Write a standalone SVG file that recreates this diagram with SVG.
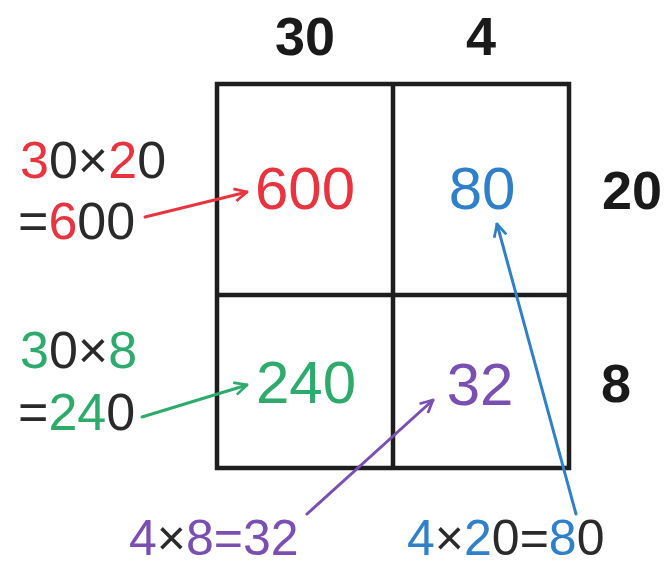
<svg xmlns="http://www.w3.org/2000/svg" width="669" height="567" viewBox="0 0 669 567">
<style>
text{font-family:"Liberation Sans","DejaVu Sans",sans-serif}
.hdr{font-size:54px;font-weight:700;fill:#1a1a1a}
.lbl{font-size:52px;fill:#2a2a2a}
.bot{font-size:50px}
.cell{font-size:60px;text-anchor:middle}
.grid{fill:none;stroke:#1e1e1e;stroke-width:4.5}
.r{fill:#e8343f}.g{fill:#2eaa6c}.b{fill:#2f80c8}.p{fill:#7a4fb2}.k{fill:#2a2a2a}
.arr{fill:none;stroke-width:3;stroke-linecap:round}
</style>
<defs>
<marker id="mr" viewBox="0 0 12 12" refX="11" refY="6" markerWidth="5" markerHeight="5" orient="auto" markerUnits="strokeWidth"><path d="M1 1 L11 6 L1 11" fill="none" stroke="#e8343f" stroke-width="2.2"/></marker>
<marker id="mg" viewBox="0 0 12 12" refX="11" refY="6" markerWidth="5" markerHeight="5" orient="auto" markerUnits="strokeWidth"><path d="M1 1 L11 6 L1 11" fill="none" stroke="#2eaa6c" stroke-width="2.2"/></marker>
<marker id="mb" viewBox="0 0 12 12" refX="11" refY="6" markerWidth="5" markerHeight="5" orient="auto" markerUnits="strokeWidth"><path d="M1 1 L11 6 L1 11" fill="none" stroke="#2f80c8" stroke-width="2.2"/></marker>
<marker id="mp" viewBox="0 0 12 12" refX="11" refY="6" markerWidth="5" markerHeight="5" orient="auto" markerUnits="strokeWidth"><path d="M1 1 L11 6 L1 11" fill="none" stroke="#7a4fb2" stroke-width="2.2"/></marker>
</defs>
<rect width="669" height="567" fill="#ffffff"/>
<g id="grid">
<rect class="grid" x="217" y="84" width="352" height="384"/>
<line class="grid" x1="393" y1="84" x2="393" y2="468"/>
<line class="grid" x1="217" y1="295" x2="569" y2="295"/>
</g>
<g id="headers">
<text class="hdr" x="305" y="55" text-anchor="middle">30</text>
<text class="hdr" x="481" y="55" text-anchor="middle">4</text>
<text class="hdr" x="632" y="209" text-anchor="middle">20</text>
<text class="hdr" x="616" y="402" text-anchor="middle">8</text>
</g>
<g id="cell-600"><text class="cell r" x="305" y="209">600</text></g>
<g id="cell-80"><text class="cell b" x="482" y="209">80</text></g>
<g id="cell-240"><text class="cell g" x="306" y="403">240</text></g>
<g id="cell-32"><text class="cell p" x="480" y="405">32</text></g>
<g id="label-600">
<text class="lbl" x="20" y="178"><tspan class="r">3</tspan><tspan class="k">0×</tspan><tspan class="r">2</tspan><tspan class="k">0</tspan></text>
<text class="lbl" x="18" y="239"><tspan class="k">=</tspan><tspan class="r">6</tspan><tspan class="k">00</tspan></text>
</g>
<g id="label-240">
<text class="lbl" x="20" y="368"><tspan class="g">3</tspan><tspan class="k">0×</tspan><tspan class="g">8</tspan></text>
<text class="lbl" x="18" y="430"><tspan class="k">=</tspan><tspan class="g">24</tspan><tspan class="k">0</tspan></text>
</g>
<g id="label-32">
<text class="lbl bot" x="129" y="555"><tspan class="p">4</tspan><tspan class="k">×</tspan><tspan class="p">8=32</tspan></text>
</g>
<g id="label-80">
<text class="lbl bot" x="407" y="555"><tspan class="b">4</tspan><tspan class="k">×</tspan><tspan class="b">2</tspan><tspan class="k">0=</tspan><tspan class="b">8</tspan><tspan class="k">0</tspan></text>
</g>
<g id="connectors">
<line class="arr" x1="145" y1="217" x2="247" y2="192" stroke="#e8343f" marker-end="url(#mr)"/>
<line class="arr" x1="142" y1="417" x2="247" y2="385" stroke="#2eaa6c" marker-end="url(#mg)"/>
<line class="arr" x1="307" y1="514" x2="433" y2="400" stroke="#7a4fb2" marker-end="url(#mp)"/>
<line class="arr" x1="576" y1="514" x2="497" y2="224" stroke="#2f80c8" marker-end="url(#mb)"/>
</g>
</svg>
